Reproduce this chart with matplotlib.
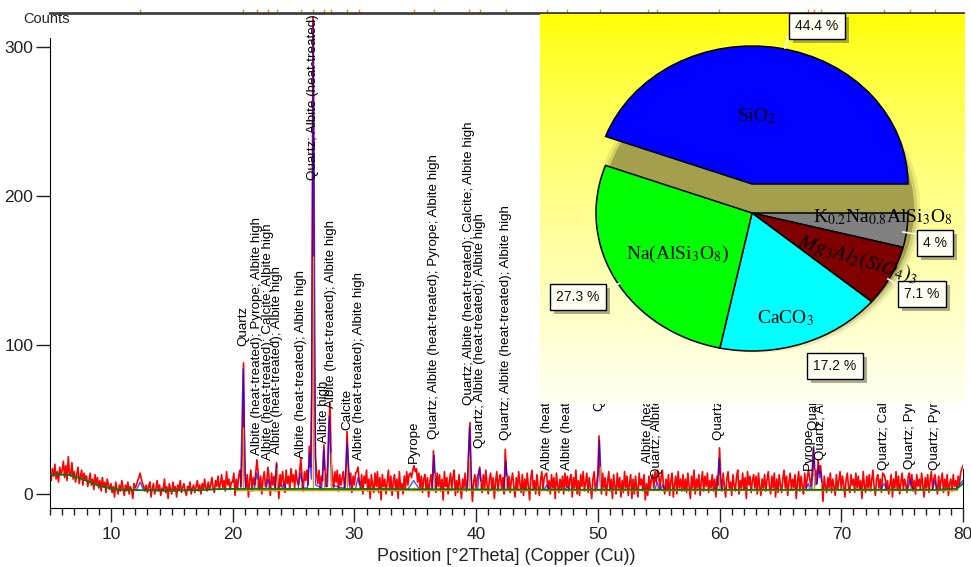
import numpy as np
import matplotlib
matplotlib.use('Agg')
import matplotlib.pyplot as plt
from matplotlib.patches import Ellipse
import matplotlib.patheffects as pe

plt.rcParams['font.family'] = ['Liberation Sans', 'DejaVu Sans']
plt.rcParams['mathtext.fontset'] = 'stix'

# measured scan: 5.0 .. 80.0 °2Theta, 0.1 step (one row per degree)
scan_start = 5.0
scan_step = 0.1
counts = [
    14, 9, 17, 12, 20, 10, 15, 8, 18, 13,
    16, 22, 11, 19, 9, 25, 14, 12, 21, 10,
    15, 8, 13, 18, 7, 12, 16, 6, 14, 10,
    12, 5, 9, 14, 6, 10, 3, 13, 7, 11,
    4, 9, 2, 11, 5, 8, 1, 10, 6, 3,
    7, 1, 5, -2, 8, 3, 0, 6, 2, 9,
    4, -1, 6, 2, 8, 0, 5, 3, -3, 7,
    4, 6, 9, 11, 14, 10, 7, 5, 2, 6,
    1, 5, 8, -2, 4, 7, 0, 3, 9, 2,
    6, -1, 4, 2, 10, 1, 5, -3, 7, 3,
    0, 8, 2, 5, -2, 6, 3, 9, 1, 4,
    7, 2, -1, 5, 3, 8, 0, 4, 6, 1,
    5, 9, 2, 6, 0, 7, 3, 10, 4, 2,
    8, 3, 6, 11, 4, 1, 9, 5, 12, 3,
    7, 13, 4, 9, 2, 15, 6, 10, 3, 8,
    8, 14, -1, 10, 3, 12, 16, 5, 30, 88,
    15, 4, 13, -2, 9, 16, 2, 11, 6, 14,
    23, 14, 3, 12, 0, 10, 15, 5, 8, 18,
    11, -1, 14, 6, 12, 2, 21, 9, -3, 13,
    5, 15, 9, 1, 16, 7, 12, 3, 17, 8,
    13, 4, 16, 9, 6, 14, 24, 11, 2, 15,
    9, 16, 6, 32, 18, 70, 320, 110, 25, 14,
    7, 16, 3, 12, 9, 33, 14, 5, 19, 45,
    61, 22, 12, 4, 15, 8, 16, 2, 13, 6,
    11, 15, 3, 12, 42, 18, 6, 14, 1, 12,
    6, 14, 15, 18, 9, 3, 13, 0, 12, 7,
    16, 2, 10, -3, 13, 6, 1, 14, 5, 15,
    1, 11, -4, 13, 5, 10, 0, 8, 16, 3,
    12, -1, 8, 13, 2, 10, -3, 15, 4, 7,
    0, 12, 4, 15, 6, 13, 14, 11, 16, 19,
    15, 17, 8, 14, 4, 12, 1, 10, 13, 3,
    11, -2, 8, 13, 3, 29, 9, 1, 14, 5,
    13, 2, 10, -4, 15, 5, 11, 0, 8, 14,
    3, 11, 16, -1, 9, 1, 13, 5, -3, 10,
    4, 14, 2, 9, 30, 48, 11, -5, 8, 13,
    4, 11, 14, 18, 9, 1, 13, 3, 16, 6,
    0, 10, 14, 3, 11, -3, 8, 15, 2, 10,
    13, 3, 11, 0, 30, 13, 4, 12, 1, 9,
    14, 5, -2, 11, 3, 15, 7, 1, 13, -1,
    10, 2, 14, 5, -4, 11, 16, 3, 9, 0,
    13, 5, -1, 9, 15, 3, 11, 13, 14, 2,
    9, 0, 13, 4, 11, -3, 14, 6, 1, 10,
    3, 12, 0, 14, 5, 12, 2, 10, 13, -2,
    11, 4, 16, 0, 9, -1, 13, 5, 15, 2,
    8, 14, 1, 11, 4, -3, 10, 15, 2, 7,
    13, 39, 9, 0, 14, 4, 11, -1, 8, 15,
    2, 10, -3, 13, 5, 0, 14, 4, 11, -2,
    9, 1, 15, 4, 12, -1, 7, 13, -3, 10,
    0, 12, 4, -2, 14, 6, 10, 2, 13, -4,
    7, -1, 12, 3, 10, 13, 4, 15, 8, 16,
    14, 3, 11, 16, 5, 0, 10, 2, 13, -1,
    9, 14, -2, 6, 12, 0, 15, 4, 10, 2,
    13, 2, 10, 1, 14, 5, -3, 12, 4, 16,
    0, 10, 4, 13, -1, 8, 15, 2, 12, 5,
    14, 1, 9, 4, 13, 2, 10, -2, 12, 6,
    31, 11, 2, 14, 5, -2, 10, 15, 4, 8,
    -1, 13, 6, 2, 12, 16, 0, 9, 4, 14,
    3, 11, -3, 15, 6, 12, 1, 9, 13, 4,
    12, 0, 14, 5, -1, 10, 4, 13, 2, 9,
    15, 5, 0, 12, 4, 14, -2, 10, 1, 13,
    6, 1, 10, 16, 4, 12, -1, 8, 14, 3,
    10, 4, 13, -3, 8, 15, 2, 12, 5, 0,
    14, 4, 10, 16, 11, 5, 13, 31, 12, 16,
    7, 23, 14, 19, 9, -5, 12, 5, 1, 11,
    4, 14, 1, 10, 5, -1, 13, 3, 9, 15,
    3, 12, 6, -2, 10, 14, 4, 1, 13, 6,
    10, 1, 14, 4, 12, 3, 9, -3, 15, 6,
    1, 12, 4, 13, 2, 9, 16, 5, -1, 10,
    13, 4, 10, 1, 14, 13, 11, 3, 9, 0,
    6, 13, -2, 10, 4, 15, 3, 12, 0, 8,
    14, 3, 10, 6, 1, 12, 14, 4, 13, 2,
    9, 0, 13, 5, 10, 3, 14, 6, -2, 11,
    4, 13, 1, 9, 15, 3, 10, 13, 6, 0,
    12, 3, 9, 14, 1, 10, 4, 13, -1, 7,
    10, 2, 13, 5, 9, 3, 12, 6, 14, 17,
    19,
]

# background (green)
bg_x = [5.0, 6.5, 7.5, 9.0, 10.5, 12.0, 15.0, 17.0, 19.0, 22.0, 30.0, 40.0,
        50.0, 60.0, 70.0, 78.0, 79.5, 80.0]
bg_y = [13, 13, 10.5, 5.5, 3.0, 2.6, 2.3, 2.6, 3.3, 3.5, 3.3, 3.0,
        2.8, 2.8, 2.8, 2.8, 3.5, 7.0]

# calculated profile (blue)
calc_x = [5.0, 6.5, 7.5, 9.0, 10.5, 12.1, 12.4, 12.7, 15.0, 17.0, 19.0,
          20.65, 20.86, 21.07, 21.8, 21.98, 22.16, 22.75, 22.92, 23.09,
          23.48, 23.62, 23.76, 24.05, 24.22, 24.39, 25.38, 25.58, 25.78,
          26.15, 26.34, 26.47, 26.64, 26.82, 27.32, 27.48, 27.64, 27.8, 27.95, 28.12,
          29.2, 29.42, 29.64, 30.1, 30.3, 30.5, 34.4, 34.87, 35.35,
          36.37, 36.55, 36.73, 39.28, 39.46, 39.64, 40.13, 40.29, 40.45,
          42.28, 42.45, 42.62, 45.6, 45.8, 46.0, 47.3, 47.5, 47.7,
          49.96, 50.14, 50.32, 54.7, 54.87, 55.04, 55.17, 55.33, 55.5,
          59.79, 59.96, 60.14, 67.1, 67.28, 67.46, 67.58, 67.74, 67.9,
          68.02, 68.14, 68.22, 68.3, 68.46, 73.25, 73.5, 73.75,
          75.45, 75.65, 75.85, 77.5, 77.67, 77.84, 79.4, 80.0]
calc_y = [13, 13, 10.5, 5.5, 3.0, 2.7, 8, 2.6, 2.3, 2.6, 3.3,
          3.5, 84, 3.5, 3.5, 14, 3.5, 3.5, 10, 3.5,
          3.5, 20, 3.5, 3.5, 7, 3.5, 3.5, 14, 3.8,
          4.2, 28, 10, 318, 6, 4, 30, 5, 5, 52, 6,
          3.8, 34, 3.8, 3.6, 11, 3.5, 3.2, 9, 3.2,
          3.2, 26, 3.2, 3.1, 45, 3.1, 3.1, 17, 3.1,
          3.0, 22, 3.0, 3.0, 6, 3.0, 3.0, 5, 3.0,
          3.0, 36, 3.0, 3.0, 8, 3.0, 3.0, 6, 3.0,
          3.0, 24, 3.0, 3.0, 7, 3.0, 3.0, 32, 6,
          7, 19, 11, 15, 3.0, 3.0, 7, 3.0,
          3.0, 10, 3.0, 3.0, 9, 3.0, 3.5, 9]

# identified peaks: position, label, label start (counts)
peak_pos = [20.86, 21.98, 22.92, 23.62, 25.58, 26.64, 27.48, 28.1, 29.42,
            30.35, 34.87, 36.55, 39.46, 40.29, 42.45, 45.8, 47.5, 50.14,
            54.1, 54.87, 59.96, 67.3, 67.74, 68.3, 73.5, 75.65, 77.67]
peak_text = [
    "Quartz",
    "Albite (heat-treated); Pyrope; Albite high",
    "Albite (heat-treated); Calcite; Albite high",
    "Albite (heat-treated); Albite high",
    "Albite (heat-treated); Albite high",
    "Quartz; Albite (heat-treated)",
    "Albite high",
    "Albite (heat-treated); Albite high",
    "Calcite",
    "Albite (heat-treated); Albite high",
    "Pyrope",
    "Quartz; Albite (heat-treated); Pyrope; Albite high",
    "Quartz; Albite (heat-treated); Calcite; Albite high",
    "Quartz; Albite (heat-treated); Albite high",
    "Quartz; Albite (heat-treated); Albite high",
    "Albite (heat-treated); Albite high",
    "Albite (heat-treated); Albite high",
    "Quartz; Albite (heat-treated)",
    "Albite (heat-treated); Albite high",
    "Quartz; Albite (heat-treated)",
    "Quartz; Albite high",
    "Pyrope",
    "Quartz; Albite high",
    "Quartz; Albite (heat-treated)",
    "Quartz; Calcite; Albite high",
    "Quartz; Pyrope; Albite high",
    "Quartz; Pyrope",
]
peak_label_y = [99, 26, 23, 27, 24, 211, 34, 58, 43, 23, 21, 37, 60, 31, 36,
                16, 16, 56, 21, 11, 36, 16, 43, 23, 16, 17, 16]
stick_h = [45, 10, 6, 18, 8, 160, 16, 28, 18, 6, 5, 14, 24, 9, 12, 4, 3, 19,
           3, 5, 13, 4, 17, 8, 4, 6, 5]

# phase composition (pie)
phase_names = [r'K$_{0.2}$Na$_{0.8}$AlSi$_3$O$_8$', r'$Mg_3Al_2(SiO_4)_3$',
               r'CaCO$_3$', r'Na(AlSi$_3$O$_8$)', r'SiO$_2$']
phase_pct = [4, 7.1, 17.2, 27.3, 44.4]
phase_colors = ['#808080', '#800000', '#00FFFF', '#00FF00', '#0000FF']

x = scan_start + scan_step * np.arange(len(counts))

fig = plt.figure(figsize=(9.71, 5.67), dpi=100)
ax = fig.add_axes([50 / 971, 59 / 567, 913 / 971, 495 / 567])

ax.plot(x, counts, color='#FF0000', lw=1.2, zorder=2)
ax.plot(calc_x, calc_y, color='#0000FF', lw=1.0, alpha=0.7, zorder=3)
ax.vlines(peak_pos, 2.5, stick_h, colors='#FF8C00', lw=1.0, zorder=4)
ax.plot([20.3, 79.5], [2.5, 2.5], color='#FF8C00', lw=1.0, zorder=4)
ax.plot(bg_x, bg_y, color='#008000', lw=1.3, zorder=4.5)

for p, t, yb in zip(peak_pos, peak_text, peak_label_y):
    ax.text(p, yb, t, rotation=90, ha='center', va='bottom', fontsize=9.6,
            color='black', zorder=6, clip_on=False)

# reference markers on the top line
ax.vlines([12.4] + peak_pos, 1.0, 1.009, transform=ax.get_xaxis_transform(),
          colors='#FF8C00', lw=1.0, clip_on=False)

ax.set_xlim(5, 80)
ax.set_ylim(-9.4, 322.8)
ax.set_xticks(np.arange(10, 81, 10))
ax.set_xticks(np.arange(5, 81, 1), minor=True)
ax.set_yticks([0, 100, 200, 300])
ax.tick_params(axis='x', which='major', direction='out', length=10, width=1,
               labelsize=12.5, pad=4, colors='#222222')
ax.tick_params(axis='x', which='minor', direction='out', length=5, width=1,
               colors='#222222')
ax.tick_params(axis='y', direction='out', length=10, width=1, labelsize=12.5,
               pad=2, colors='#222222')
ax.spines['left'].set_bounds(-9.4, 306)
ax.spines['right'].set_bounds(-9.4, 17)
ax.spines['top'].set_color('#404040')
ax.spines['top'].set_linewidth(2)
ax.set_xlabel('Position [°2Theta] (Copper (Cu))', fontsize=13, labelpad=4,
              color='#222222')
fig.text(23 / 971, 1 - 19 / 567, 'Counts', ha='left', va='center', fontsize=10.5,
         color='#222222')

# ---- pie inset ----
ax2 = fig.add_axes([540 / 971, (567 - 404) / 567, 425 / 971, 390 / 567])
cx, cy, rx, ry = 752, 213, 156, 138   # pie centre / radii in figure pixels


def px(xp, yp):
    return (xp - cx) / rx, (cy - yp) / ry


xmin, _ = px(540, 0)
xmax, _ = px(965, 0)
_, ymax = px(0, 14)
_, ymin = px(0, 404)

t = np.linspace(0, 1, 256)
grad = np.ones((256, 1, 3))
grad[:, 0, 2] = 0.95 * t ** 0.75
ax2.imshow(grad, extent=(xmin, xmax, ymin, ymax), aspect='auto', zorder=0,
           interpolation='bilinear')

sdx, sdy = 6 / rx, 4 / ry
for sc, al in [(1.04, 0.2), (1.02, 0.35), (1.0, 1.0)]:
    ax2.add_patch(Ellipse((sdx, sdy), 2 * sc, 2 * sc, color='#A39F4C',
                          alpha=al, lw=0, zorder=1))

wedges, _ = ax2.pie(phase_pct, colors=phase_colors, startangle=0,
                    counterclock=False,
                    wedgeprops=dict(edgecolor='black', linewidth=1.1))
for w in wedges:
    w.set_zorder(2)
wedges[4].set_center((0, 29 / ry))

name_pos = [(883, 217), (858, 259), (785, 318), (677, 254), (757, 116)]
name_rot = [0, -17, 0, 0, 0]
name_size = [14, 15, 14, 14, 14]
for name, (xp, yp), rot, fs in zip(phase_names, name_pos, name_rot, name_size):
    ax2.text(*px(xp, yp), name, ha='center', va='center', fontsize=fs,
             family='Liberation Serif', rotation=rot, rotation_mode='anchor',
             zorder=5)

box_pos = [(935, 243), (922, 294), (835, 366), (578, 297), (817, 26)]
leaders = [((903, 232), (915, 234)), ((888, 279), (898, 285)),
           ((803, 349), (808, 359)), ((620, 283), (607, 290)),
           ((785, 48), (788, 36))]
for v, (xp, yp), (p0, p1) in zip(phase_pct, box_pos, leaders):
    a, b = px(*p0), px(*p1)
    ax2.plot([a[0], b[0]], [a[1], b[1]], color='#F4F4E4', lw=1.3, zorder=3)
    txt = ax2.text(*px(xp, yp), f'{v:g} %', ha='center', va='center',
                   fontsize=10, color='#111111', zorder=4,
                   bbox=dict(boxstyle='square,pad=0.45', fc='#FFFFF4',
                             ec='black', lw=1.0))
    txt.get_bbox_patch().set_path_effects([
        pe.SimplePatchShadow(offset=(3, -3), shadow_rgbFace='#5a5a40', alpha=0.5),
        pe.Normal()])

ax2.set_aspect('auto')
ax2.set_xlim(xmin, xmax)
ax2.set_ylim(ymin, ymax)
ax2.set_axis_off()

fig.savefig('out.png', dpi=100)
